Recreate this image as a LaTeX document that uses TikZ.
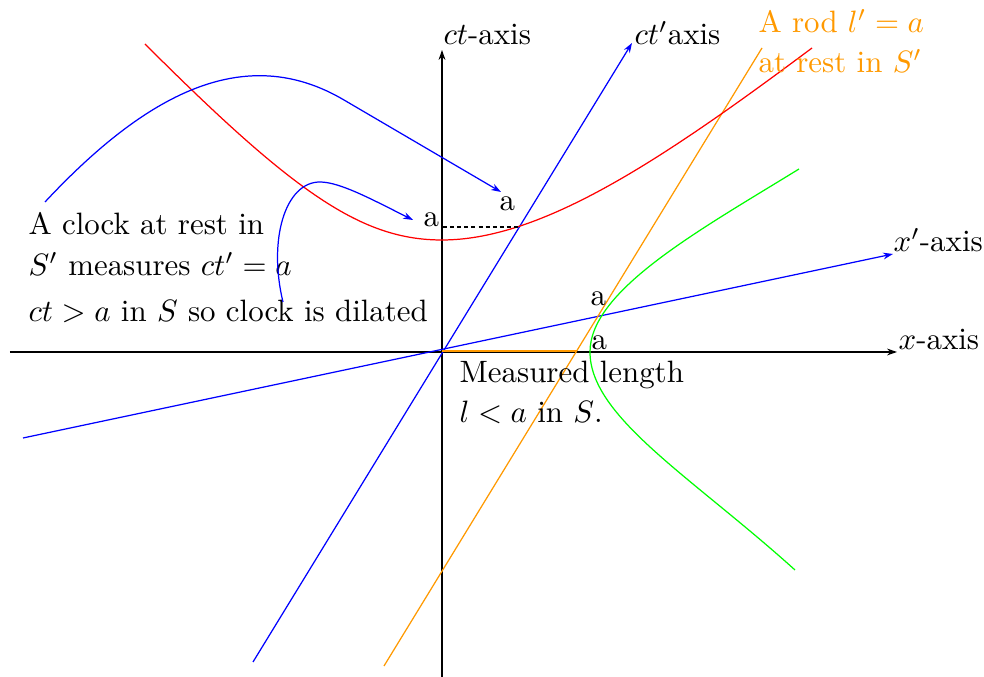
\documentclass[tikz,border=0pt]{standalone}
\usetikzlibrary{arrows.meta}
\definecolor{rodorange}{RGB}{255,153,0}
\begin{document}
\begin{tikzpicture}[x=0.3236pt,y=-0.3236pt,
  lbl/.style={anchor=base west, inner sep=0pt},
  arr/.style={-{Stealth[length=3.2pt,width=2.2pt]}},
  axis/.style={black, arr},
  prim/.style={blue, arr},
  worldline/.style={rodorange},
  ]
\useasboundingbox (0,0) rectangle (984,677);

% key points
\coordinate (O) at (442,352);
\coordinate (xL) at (10,352);
\coordinate (xR) at (897,352);
\coordinate (tB) at (442,678);
\coordinate (tT) at (442,50);
\coordinate (tpB) at (253,662);
\coordinate (tpT) at (632,43);
\coordinate (xpL) at (23,438);
\coordinate (xpR) at (893,254);
\coordinate (rodB) at (384,666);
\coordinate (rodT) at (762,48);
\coordinate (rodX) at (577,351);
\coordinate (Ot) at (442,351);
\coordinate (dashL) at (443,227);
\coordinate (dashR) at (520,227);

% axes
\draw[axis] (xL) -- (xR);
\draw[axis] (tB) -- (tT);
\draw[prim] (tpB) -- (tpT);
\draw[prim] (xpL) -- (xpR);

% rod worldline
\draw[worldline] (rodB) -- (rodT);
\draw[rodorange, line width=0.8pt] (Ot) -- (rodX);

% red hyperbola
\coordinate (redL) at (145,44);
\coordinate (redV) at (442,240);
\coordinate (redR) at (812,48);
\draw[red] (redL) .. controls (295,194) and (362,240) .. (redV)
                  .. controls (542,240) and (662,160) .. (redR);

% green hyperbola
\coordinate (grT) at (799,169);
\coordinate (grV) at (590,352);
\coordinate (grB) at (795,570);
\draw[green] (grT) .. controls (700,230) and (590,290) .. (grV)
                   .. controls (590,417) and (692,477) .. (grB);

% dashed
\draw[dash pattern=on 1.3pt off 1pt] (dashL) -- (dashR);

% labels
\node[lbl] (lct) at (443,45) {$ct$-axis};
\node[lbl] (lctp) at (634,45) {$ct'$axis};
\node[lbl, text=rodorange] (rod1) at (758,33) {A rod $l'=a$};
\node[lbl, text=rodorange] (rod2) at (758,73) {at rest in $S'$};
\node[lbl] (lxp) at (893,252) {$x'$-axis};
\node[lbl] (lx) at (898,350) {$x$-axis};
\node[lbl] (a1) at (423,227) {a};
\node[lbl] (a2) at (499,211) {a};
\node[lbl] (a3) at (590,306) {a};
\node[lbl] (a4) at (591,350) {a};
\node[lbl] (c1) at (28,235) {A clock at rest in};
\node[lbl] (c2) at (28,276) {$S'$ measures $ct'=a$};
\node[lbl] (c3) at (28,322) {$ct>a$ in $S$ so clock is dilated};
\node[lbl] (m1) at (459,383) {Measured length};
\node[lbl] (m2) at (459,423) {$l<a$ in $S$.};

% curved blue arrows
\coordinate (p1s) at (45,202);
\coordinate (p1m) at (344,100);
\coordinate (p1e) at (501,192);
\draw[prim] (p1s) .. controls (145,95) and (244,41) .. (p1m) -- (p1e);
\coordinate (p2s) at (283,302);
\coordinate (p2m) at (320,182);
\coordinate (p2e) at (413,220);
\draw[prim] (p2s) .. controls (268,240) and (285,182) .. (p2m) .. controls (340,182) and (373,200) .. (p2e);
\end{tikzpicture}
\end{document}
